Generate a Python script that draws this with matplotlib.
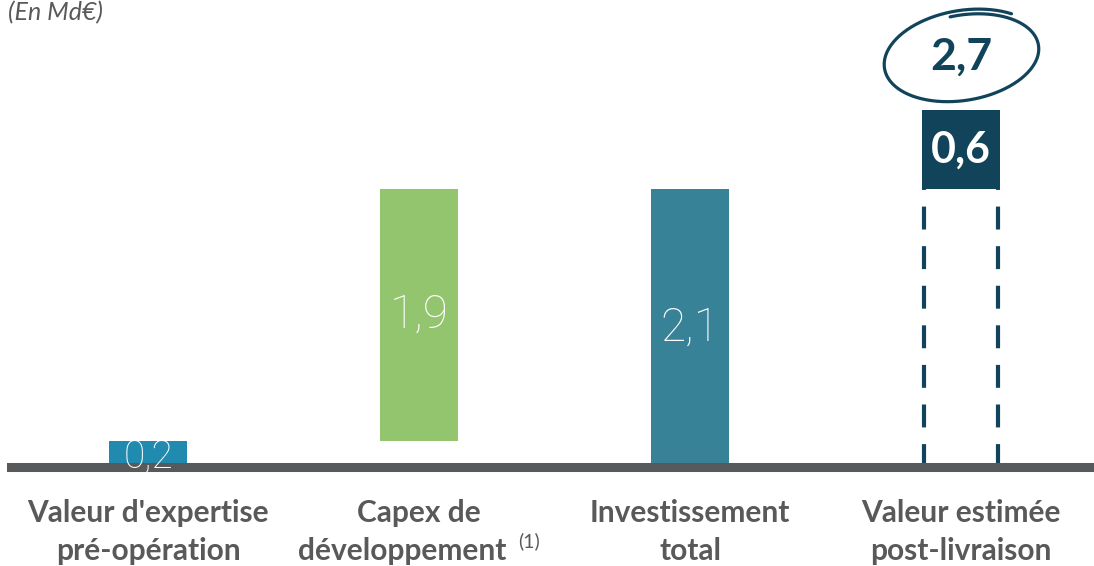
import numpy as np
import matplotlib
matplotlib.use("Agg")
import matplotlib.pyplot as plt
from matplotlib import transforms

# ---------------------------------------------------------------------------
# Data (Md€)
# ---------------------------------------------------------------------------
categories = ["Valeur d'expertise\npré-opération",
              "Capex de\ndéveloppement",
              "Investissement\ntotal",
              "Valeur estimée\npost-livraison"]
values = [0.2, 1.9, 2.1, 0.6]
value_labels = ["0,2", "1,9", "2,1", "0,6"]
total_label = "2,7"
unit_label = "(En Md€)"
footnote = "(1)"

# ---------------------------------------------------------------------------
# Style
# ---------------------------------------------------------------------------
C_EXPERT = "#208aaf"
C_CAPEX = "#93c56f"
C_INVEST = "#388298"
C_DARK = "#11445a"
C_GREY = "#595959"
C_AXIS = "#58595b"

W, H, DPI = 1094, 566, 100
fig = plt.figure(figsize=(W / DPI, H / DPI), dpi=DPI)
ax = fig.add_axes([0, 0, 1, 1])

# pixel layout: bar centres every 271 px starting at 148, baseline at 467
px_per_unit = 132.4
ax.set_xlim(-148 / 271, (W - 148) / 271)
ax.set_ylim(-(H - 467) / px_per_unit, 467 / px_per_unit)
ax.axis("off")

x = np.arange(len(categories))
bw = 0.29

# waterfall: start value, increment, total, uplift
v_start, v_capex, v_invest, v_uplift = values
ax.bar(x[0], v_start, width=bw, color=C_EXPERT, zorder=2)
ax.bar(x[1], v_capex, bottom=v_start, width=bw, color=C_CAPEX, zorder=2)
ax.bar(x[2], v_invest, width=bw, color=C_INVEST, zorder=2)
ax.bar(x[3], v_uplift, bottom=v_invest, width=bw, color=C_DARK, zorder=2)

# dashed outline sides for the last bar (up to invest level)
for xs in (x[3] - bw / 2 + 0.008, x[3] + bw / 2 - 0.008):
    ax.plot([xs, xs], [0, v_invest], color=C_DARK, lw=3,
            linestyle=(0, (5.5, 4)), solid_capstyle="butt", zorder=2)

# baseline
ax.axhline(0, xmin=0.01, xmax=1, color=C_AXIS, lw=6.5, zorder=3)

# value labels inside bars
light = dict(family="Roboto", weight="light", color="white",
             ha="center", va="center", zorder=5)
ax.text(x[0], v_start / 2 - 0.02, value_labels[0], fontsize=28, **light)
ax.text(x[1], v_start + v_capex / 2, value_labels[1], fontsize=33, **light)
ax.text(x[2], v_invest / 2, value_labels[2], fontsize=33, **light)
ax.text(x[3], v_invest + v_uplift / 2, value_labels[3], fontsize=31,
        family="Lato", weight="bold", color="white",
        ha="center", va="center", zorder=5)

# total, circled by hand-drawn-looking ellipse
total = v_invest + v_uplift
y_tot = total + 0.40
ax.text(x[3], y_tot, total_label, fontsize=32, family="Lato",
        weight="bold", color=C_DARK, ha="center", va="center", zorder=5)

cx, cy = ax.transData.transform((x[3], y_tot))
cx += 2
t = np.linspace(np.radians(48), np.radians(455), 300)
s = (t - t[0]) / (t[-1] - t[0])
a = 77 * (1.06 - 0.09 * s)
b = 44 * (1.06 - 0.12 * s)
rot = np.radians(9)
ex = a * np.cos(t)
ey = b * np.sin(t)
px = cx + ex * np.cos(rot) - ey * np.sin(rot)
py = cy + ex * np.sin(rot) + ey * np.cos(rot)
ax.plot(px, py, color=C_DARK, lw=2.3, transform=transforms.IdentityTransform(),
        solid_capstyle="round", zorder=4)

# category labels, one text per line (second capex line leaves room for note)
lab_kw = dict(fontsize=21.5, family="Lato", weight="bold", color=C_GREY,
              ha="center", va="baseline")
for i, (xi, lab) in enumerate(zip(x, categories)):
    line1, line2 = lab.split("\n")
    shift = -0.063 if i == 1 else 0.0
    ax.text(xi, -0.415, line1, **lab_kw)
    ax.text(xi + shift, -0.702, line2, **lab_kw)
ax.text(x[1] + 0.405, -0.56, footnote, fontsize=14, family="Lato",
        color=C_GREY, ha="center", va="center")

fig.text(8 / W, 1 - 1 / H, unit_label, fontsize=18, family="Lato",
         style="italic", color=C_GREY, ha="left", va="top")

fig.savefig("out.png", dpi=DPI)
